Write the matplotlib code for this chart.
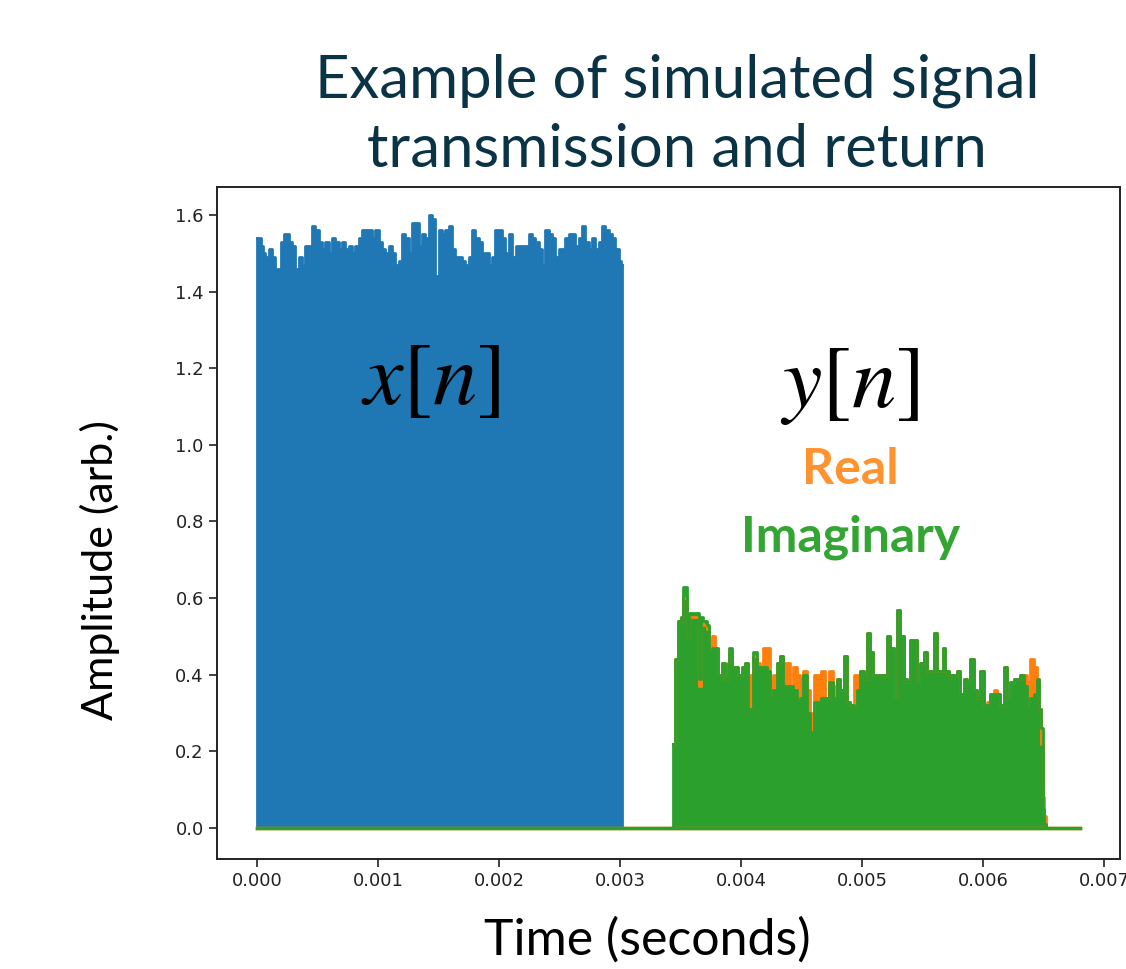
import matplotlib
matplotlib.use("Agg")
import matplotlib.pyplot as plt
import numpy as np

# transmitted signal x[n]: peak envelope, time in ms
tx_time = [0.000, 0.028, 0.041, 0.055, 0.083, 0.110, 0.138, 0.165, 0.193, 0.207,
           0.234, 0.262, 0.275, 0.303, 0.331, 0.358, 0.386, 0.413, 0.441, 0.468,
           0.496, 0.523, 0.551, 0.579, 0.606, 0.634, 0.661, 0.689, 0.716, 0.744,
           0.771, 0.799, 0.826, 0.854, 0.882, 0.909, 0.937, 0.964, 0.992, 1.019,
           1.047, 1.074, 1.102, 1.129, 1.157, 1.185, 1.212, 1.240, 1.267, 1.295,
           1.322, 1.350, 1.377, 1.405, 1.433, 1.460, 1.488, 1.515, 1.543, 1.570,
           1.598, 1.625, 1.653, 1.680, 1.708, 1.736, 1.763, 1.791, 1.818, 1.846,
           1.873, 1.901, 1.928, 1.956, 1.983, 2.011, 2.039, 2.066, 2.094, 2.121,
           2.135, 2.149, 2.176, 2.204, 2.231, 2.259, 2.287, 2.314, 2.342, 2.369,
           2.397, 2.424, 2.452, 2.479, 2.507, 2.534, 2.562, 2.590, 2.617, 2.645,
           2.672, 2.700, 2.727, 2.755, 2.782, 2.810, 2.837, 2.865, 2.893, 2.920,
           2.948, 2.975, 3.003, 3.017]
tx_amp = [1.54, 1.54, 1.52, 1.50, 1.49, 1.51, 1.49, 1.46, 1.44, 1.53,
          1.55, 1.55, 1.53, 1.52, 1.46, 1.49, 1.47, 1.52, 1.52, 1.57,
          1.56, 1.53, 1.51, 1.53, 1.50, 1.54, 1.53, 1.51, 1.53, 1.51,
          1.52, 1.50, 1.52, 1.54, 1.56, 1.56, 1.56, 1.54, 1.56, 1.53,
          1.51, 1.50, 1.52, 1.50, 1.47, 1.48, 1.55, 1.54, 1.50, 1.58,
          1.58, 1.52, 1.55, 1.54, 1.60, 1.59, 1.44, 1.56, 1.55, 1.56,
          1.57, 1.51, 1.49, 1.49, 1.48, 1.47, 1.49, 1.56, 1.54, 1.53,
          1.50, 1.50, 1.47, 1.49, 1.56, 1.56, 1.54, 1.50, 1.55, 1.49,
          1.44, 1.52, 1.52, 1.52, 1.52, 1.55, 1.54, 1.53, 1.51, 1.47,
          1.56, 1.55, 1.54, 1.49, 1.51, 1.51, 1.54, 1.55, 1.55, 1.52,
          1.54, 1.57, 1.53, 1.51, 1.54, 1.51, 1.53, 1.57, 1.56, 1.55,
          1.54, 1.51, 1.48, 1.47]

# returned signal y[n]: real and imaginary peak envelopes, time in ms
rx_time = [3.441, 3.463, 3.490, 3.510, 3.523, 3.545, 3.557, 3.579, 3.606, 3.647,
           3.661, 3.675, 3.702, 3.730, 3.744, 3.771, 3.799, 3.826, 3.854, 3.882,
           3.895, 3.909, 3.937, 3.964, 3.992, 4.019, 4.047, 4.074, 4.116, 4.143,
           4.171, 4.198, 4.226, 4.253, 4.281, 4.309, 4.336, 4.364, 4.391, 4.419,
           4.446, 4.474, 4.501, 4.529, 4.556, 4.584, 4.612, 4.639, 4.680, 4.708,
           4.749, 4.777, 4.804, 4.832, 4.860, 4.887, 4.915, 4.942, 4.970, 4.997,
           5.025, 5.052, 5.080, 5.107, 5.135, 5.163, 5.190, 5.218, 5.245, 5.273,
           5.300, 5.328, 5.355, 5.383, 5.410, 5.438, 5.466, 5.493, 5.521, 5.548,
           5.576, 5.603, 5.631, 5.658, 5.672, 5.700, 5.727, 5.769, 5.796, 5.824,
           5.851, 5.879, 5.906, 5.934, 5.961, 5.989, 6.017, 6.044, 6.072, 6.099,
           6.127, 6.154, 6.182, 6.209, 6.237, 6.264, 6.292, 6.320, 6.347, 6.375,
           6.402, 6.430, 6.457, 6.471, 6.485, 6.499, 6.512, 6.526]
rx_imag = [0.22, 0.44, 0.54, 0.55, 0.63, 0.63, 0.50, 0.56, 0.56, 0.56,
           0.39, 0.55, 0.54, 0.53, 0.46, 0.47, 0.47, 0.40, 0.43, 0.39,
           0.43, 0.47, 0.42, 0.42, 0.40, 0.42, 0.43, 0.31, 0.46, 0.42,
           0.42, 0.42, 0.41, 0.34, 0.36, 0.43, 0.45, 0.37, 0.37, 0.37,
           0.36, 0.33, 0.34, 0.40, 0.30, 0.25, 0.33, 0.33, 0.34, 0.34,
           0.38, 0.34, 0.39, 0.36, 0.45, 0.33, 0.32, 0.31, 0.36, 0.41,
           0.39, 0.51, 0.46, 0.40, 0.40, 0.40, 0.40, 0.50, 0.47, 0.34,
           0.57, 0.50, 0.39, 0.38, 0.49, 0.49, 0.38, 0.43, 0.46, 0.41,
           0.41, 0.51, 0.41, 0.41, 0.47, 0.41, 0.40, 0.40, 0.41, 0.35,
           0.39, 0.38, 0.44, 0.36, 0.34, 0.41, 0.32, 0.32, 0.35, 0.35,
           0.35, 0.32, 0.42, 0.34, 0.38, 0.39, 0.39, 0.40, 0.37, 0.31,
           0.34, 0.35, 0.39, 0.31, 0.26, 0.05, 0.01, 0.00]
rx_real = [0.22, 0.44, 0.54, 0.55, 0.60, 0.60, 0.50, 0.55, 0.55, 0.55,
           0.37, 0.54, 0.53, 0.52, 0.49, 0.50, 0.47, 0.40, 0.43, 0.39,
           0.43, 0.46, 0.42, 0.42, 0.40, 0.42, 0.43, 0.40, 0.45, 0.43,
           0.42, 0.47, 0.47, 0.39, 0.40, 0.43, 0.45, 0.43, 0.43, 0.37,
           0.42, 0.40, 0.39, 0.41, 0.36, 0.30, 0.40, 0.40, 0.41, 0.34,
           0.41, 0.37, 0.39, 0.36, 0.45, 0.33, 0.32, 0.40, 0.40, 0.41,
           0.39, 0.51, 0.46, 0.40, 0.40, 0.40, 0.40, 0.50, 0.47, 0.34,
           0.57, 0.50, 0.39, 0.38, 0.49, 0.49, 0.38, 0.43, 0.46, 0.41,
           0.41, 0.51, 0.41, 0.41, 0.47, 0.41, 0.40, 0.40, 0.41, 0.35,
           0.39, 0.38, 0.44, 0.36, 0.34, 0.41, 0.32, 0.33, 0.35, 0.36,
           0.35, 0.32, 0.42, 0.34, 0.38, 0.39, 0.39, 0.40, 0.40, 0.38,
           0.44, 0.42, 0.39, 0.31, 0.22, 0.08, 0.03, 0.00]

# full record length (ms)
record_time = [0.0, 6.8]
record_amp = [0.0, 0.0]

blue = '#1f77b4'
orange = '#ff7f0e'
green = '#2ca02c'

W, H = 1126, 969
fig = plt.figure(figsize=(W / 100, H / 100), dpi=100)
ax = fig.add_axes([217 / W, 1 - 859 / H, (1120 - 217) / W, (859 - 187) / H])

tx_t = np.array(tx_time) * 1e-3
rx_t = np.array(rx_time) * 1e-3
rec_t = np.array(record_time) * 1e-3

ax.plot(rec_t, record_amp, color=blue, lw=2)
ax.fill_between(tx_t, 0, tx_amp, step='mid', color=blue, lw=0)
ax.plot(tx_t, tx_amp, drawstyle='steps-mid', color=blue, lw=2)
ax.plot([tx_t[-1], tx_t[-1]], [0, tx_amp[-1]], color=blue, lw=2)
ax.plot([tx_t[0], tx_t[0]], [0, tx_amp[0]], color=blue, lw=2)

ax.fill_between(rx_t, 0, rx_real, step='mid', color=orange, lw=0)
ax.plot(rx_t, rx_real, drawstyle='steps-mid', color=orange, lw=2)
ax.plot(rec_t, record_amp, color=orange, lw=2.5)
ax.fill_between(rx_t, 0, rx_imag, step='mid', color=green, lw=0)
ax.plot(rx_t, rx_imag, drawstyle='steps-mid', color=green, lw=2)
ax.plot([rx_t[0], rx_t[0]], [0, rx_imag[0]], color=green, lw=2)
ax.plot(rec_t, record_amp, color=green, lw=2.5)

ax.set_xlim(-0.00033, 0.00713)
ax.set_ylim(-0.081, 1.673)
ax.set_xticks([0.000, 0.001, 0.002, 0.003, 0.004, 0.005, 0.006, 0.007])
ax.set_xticklabels(['0.000', '0.001', '0.002', '0.003', '0.004', '0.005', '0.006', '0.007'])
ax.set_yticks([0.0, 0.2, 0.4, 0.6, 0.8, 1.0, 1.2, 1.4, 1.6])
ax.set_yticklabels(['0.0', '0.2', '0.4', '0.6', '0.8', '1.0', '1.2', '1.4', '1.6'])
ax.tick_params(labelsize=13, length=6, width=1.2, colors='#222222')
for s in ax.spines.values():
    s.set_linewidth(1.4)
    s.set_color('#222222')

font = 'Lato'
title_color = '#0b3346'
fig.text(677 / W, 1 - 98 / H, 'Example of simulated signal', ha='center', va='baseline',
         fontsize=43, color=title_color, family=font)
fig.text(677 / W, 1 - 167 / H, 'transmission and return', ha='center', va='baseline',
         fontsize=43, color=title_color, family=font)

fig.text(100 / W, 1 - 570 / H, 'Amplitude (arb.)', rotation=90, ha='center', va='center',
         fontsize=31, family=font)
fig.text(647 / W, 1 - 940 / H, 'Time (seconds)', ha='center', va='center',
         fontsize=36, family=font)

plt.rcParams['mathtext.fontset'] = 'stix'
ax.text(0.00144, 1.17, r'$x[n]$', ha='center', va='center', fontsize=64)
ax.text(0.00490, 1.16, r'$y[n]$', ha='center', va='center', fontsize=64)
ax.text(0.00490, 0.935, 'Real', ha='center', va='center', fontsize=36,
        fontweight='bold', color='#ff9330', family=font)
ax.text(0.00490, 0.76, 'Imaginary', ha='center', va='center', fontsize=36,
        fontweight='bold', color='#33a532', family=font)

fig.savefig('out.png', dpi=100)
